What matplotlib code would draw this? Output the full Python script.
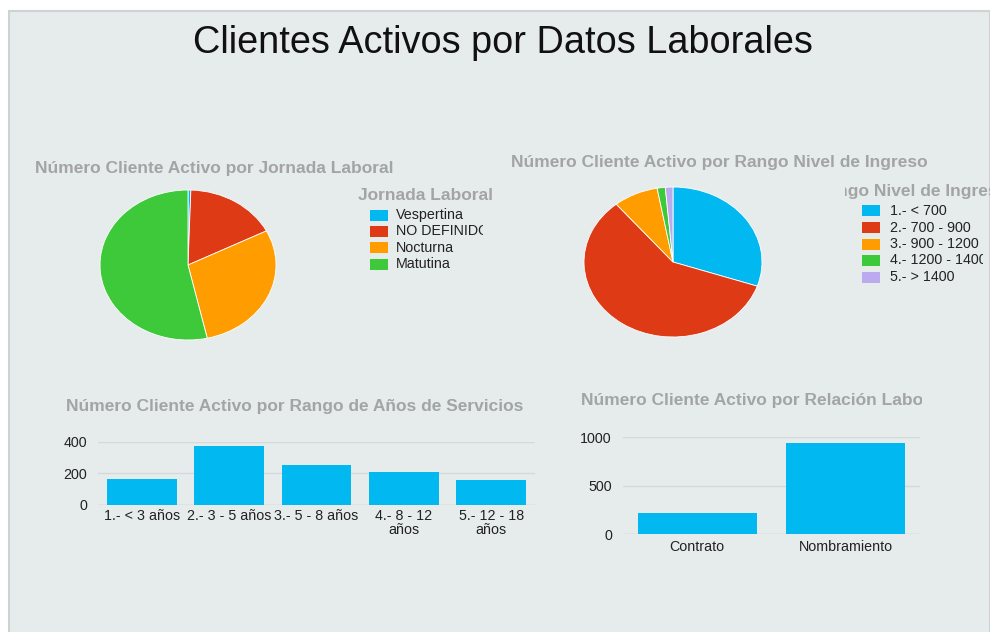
import numpy as np
import matplotlib.pyplot as plt
from matplotlib.patches import Rectangle
from matplotlib.transforms import Bbox

# datos
jornada = ['Vespertina', 'NO DEFINIDO', 'Nocturna', 'Matutina']
jornada_n = [6, 196, 335, 618]

ingreso = ['1.- < 700', '2.- 700 - 900', '3.- 900 - 1200', '4.- 1200 - 1400', '5.- > 1400']
ingreso_n = [349, 679, 94, 17, 16]

anios = ['1.- < 3 años', '2.- 3 - 5 años', '3.- 5 - 8 años', '4.- 8 - 12\naños', '5.- 12 - 18\naños']
anios_n = [162, 375, 253, 210, 156]

relacion = ['Contrato', 'Nombramiento']
relacion_n = [215, 940]

pie1_colors = ['#01b8f0', '#df3a16', '#ff9c00', '#3dc93a']
pie2_colors = ['#01b8f0', '#df3a16', '#ff9c00', '#3dc93a', '#bcaaee']
bar_color = '#01b8f0'
bg = '#e6ebeb'
title_gray = '#a3a5a5'

plt.rcParams['font.family'] = ['Liberation Sans', 'DejaVu Sans']

W, H = 990, 632
fig = plt.figure(figsize=(W / 100, H / 100), dpi=100)
fig.patch.set_facecolor('white')


def box(x0, y0, x1, y1):
    # pixeles (origen arriba-izquierda) -> coordenadas de figura
    return [x0 / W, 1 - y1 / H, (x1 - x0) / W, (y1 - y0) / H]


def clip(x0, x1):
    return Bbox([[x0, 0], [x1, H]])


# panel de fondo
fig.patches.append(Rectangle((9 / W, -0.01), (990 - 9) / W, 1 - 11 / H + 0.01,
                             transform=fig.transFigure, facecolor=bg,
                             edgecolor='#cfd2d2', linewidth=1.5, zorder=-5))

fig.text(503 / W, 1 - 43 / H, 'Clientes Activos por Datos Laborales',
         ha='center', va='center', fontsize=27.3, color='#111111')

tsize = 12.5
lsize = 10.3

# --- pastel 1
ax1 = fig.add_axes(box(100, 190, 276, 340))
ax1.set_facecolor('none')
ax1.pie(jornada_n, colors=pie1_colors, startangle=90, counterclock=False,
        wedgeprops=dict(edgecolor='white', linewidth=0.6))
ax1.set_aspect('auto')
ax1.set_xlim(-1, 1)
ax1.set_ylim(-1, 1)
fig.text(35 / W, 1 - 168 / H, 'Número Cliente Activo por Jornada Laboral',
         ha='left', va='center', fontsize=tsize, fontweight='bold', color=title_gray)
fig.text(358 / W, 1 - 196 / H, 'Jornada Laboral', ha='left', va='center',
         fontsize=tsize, fontweight='bold', color=title_gray)
for i, (lab, c) in enumerate(zip(jornada, pie1_colors)):
    y = 215 + i * 16.4
    fig.patches.append(Rectangle((370 / W, 1 - (y + 5.5) / H), 18 / W, 11 / H,
                                 transform=fig.transFigure, facecolor=c,
                                 edgecolor='none'))
    t = fig.text(396 / W, 1 - y / H, lab, ha='left', va='center',
                 fontsize=lsize, color='#222222')
    t.set_clip_box(clip(0, 483))

# --- pastel 2
ax2 = fig.add_axes(box(584, 187, 762, 337))
ax2.set_facecolor('none')
ax2.pie(ingreso_n, colors=pie2_colors, startangle=90, counterclock=False,
        wedgeprops=dict(edgecolor='white', linewidth=0.6))
ax2.set_aspect('auto')
ax2.set_xlim(-1, 1)
ax2.set_ylim(-1, 1)
fig.text(511 / W, 1 - 163 / H, 'Número Cliente Activo por Rango Nivel de Ingreso',
         ha='left', va='center', fontsize=tsize, fontweight='bold', color=title_gray)
t = fig.text(815 / W, 1 - 191 / H, 'Rango Nivel de Ingreso', ha='left', va='center',
             fontsize=tsize, fontweight='bold', color=title_gray)
t.set_clip_box(clip(845, 990))
for i, (lab, c) in enumerate(zip(ingreso, pie2_colors)):
    y = 211 + i * 16.5
    fig.patches.append(Rectangle((862 / W, 1 - (y + 5.5) / H), 18 / W, 11 / H,
                                 transform=fig.transFigure, facecolor=c,
                                 edgecolor='none'))
    t = fig.text(890 / W, 1 - y / H, lab, ha='left', va='center',
                 fontsize=lsize, color='#222222')
    t.set_clip_box(clip(0, 983))


def estilo_barras(ax):
    ax.set_facecolor('none')
    for s in ax.spines.values():
        s.set_visible(False)
    ax.yaxis.grid(True, color='#d5d9d9', linewidth=1)
    ax.set_axisbelow(True)
    ax.tick_params(length=0, labelsize=lsize, colors='#222222')
    ax.tick_params(axis='y', pad=8)


# --- barras 1
ax3 = fig.add_axes(box(98, 441.7, 535, 505))
ax3.bar(range(len(anios)), anios_n, width=0.8, color=bar_color)
ax3.set_xlim(-0.5, len(anios) - 0.5)
ax3.set_ylim(0, 400)
ax3.set_yticks([0, 200, 400])
ax3.set_xticks(range(len(anios)))
ax3.set_xticklabels(anios, linespacing=1.0)
estilo_barras(ax3)
ax3.tick_params(axis='x', pad=3)
ax3.axhline(0, color='#cfd3d3', linewidth=1, zorder=0)
fig.text(66 / W, 1 - 406 / H, 'Número Cliente Activo por Rango de Años de Servicios',
         ha='left', va='center', fontsize=tsize, fontweight='bold', color=title_gray)

# --- barras 2
ax4 = fig.add_axes(box(623, 437.3, 920, 534))
ax4.bar(range(len(relacion)), relacion_n, width=0.8, color=bar_color)
ax4.set_xlim(-0.5, len(relacion) - 0.5)
ax4.set_ylim(0, 1000)
ax4.set_yticks([0, 500, 1000])
ax4.set_xticks(range(len(relacion)))
ax4.set_xticklabels(relacion)
estilo_barras(ax4)
ax4.tick_params(axis='x', pad=4)
ax4.axhline(0, color='#cfd3d3', linewidth=1, zorder=0)
t = fig.text(581 / W, 1 - 401 / H, 'Número Cliente Activo por Relación Laboral',
             ha='left', va='center', fontsize=tsize, fontweight='bold', color=title_gray)
t.set_clip_box(clip(0, 922))

fig.savefig('out.png', dpi=100)
